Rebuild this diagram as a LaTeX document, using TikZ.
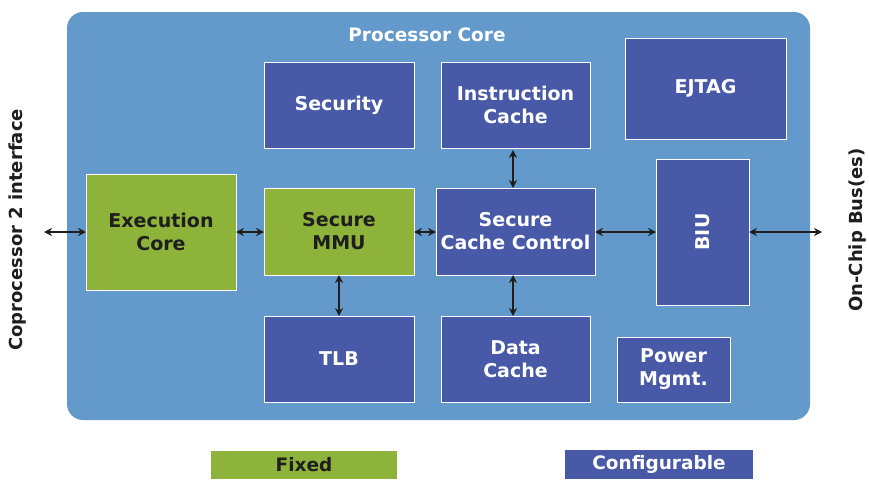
\documentclass[tikz,border=0pt]{standalone}
\usepackage{fontspec}
\setmainfont{DejaVu Sans}
\usetikzlibrary{arrows.meta}
\definecolor{corebg}{HTML}{6399CB}
\definecolor{cfgblue}{HTML}{4859A8}
\definecolor{fixgreen}{HTML}{8DB33A}
\definecolor{txtdark}{HTML}{1E1E1E}
\tikzset{
  blk/.style={draw=white, line width=0.8pt, inner sep=0pt, outer sep=0pt, align=center,
    font=\bfseries\fontsize{19}{23}\selectfont},
  cfg/.style={blk, fill=cfgblue, text=white},
  fix/.style={blk, fill=fixgreen, text=txtdark},
  link/.style={line width=1.8pt, draw=txtdark, {Stealth[length=8pt,width=8pt]}-{Stealth[length=8pt,width=8pt]}},
  side/.style={font=\bfseries\fontsize{18}{21}\selectfont, text=txtdark, rotate=90},
  legend/.style={inner sep=0pt, outer sep=0pt, font=\bfseries\fontsize{18.5}{21}\selectfont}
}
\begin{document}
\begin{tikzpicture}[x=1pt,y=-1pt]
\useasboundingbox (0,0) rectangle (869,479);
% processor core background
\node[fill=corebg, rounded corners=16pt, minimum width=743pt, minimum height=408pt, inner sep=0pt] (core) at (438.5,216) {};
\node[text=white, font=\bfseries\fontsize{18.5}{22}\selectfont] (coret) at (427,35) {Processor Core};
% blocks
\node[cfg, minimum width=150pt, minimum height=86pt] (sec) at (339,105) {Security};
\node[cfg, minimum width=149pt, minimum height=86pt] (ic) at (515.5,105) {Instruction\\Cache};
\node[cfg, minimum width=161pt, minimum height=101pt] (ejtag) at (705.5,88.5) {EJTAG};
\node[fix, minimum width=150pt, minimum height=116pt] (exe) at (161,232) {Execution\\Core};
\node[fix, minimum width=150pt, minimum height=87pt] (mmu) at (339,231.5) {Secure\\MMU};
\node[cfg, minimum width=159pt, minimum height=87pt] (scc) at (515.5,231.5) {Secure\\Cache Control};
\node[cfg, minimum width=93pt, minimum height=146pt] (biu) at (702.5,232) {\rotatebox{90}{BIU}};
\node[cfg, minimum width=150pt, minimum height=86pt] (tlb) at (339,359) {TLB};
\node[cfg, minimum width=149pt, minimum height=86pt] (dc) at (515.5,359) {Data\\Cache};
\node[cfg, minimum width=113pt, minimum height=65pt] (pwr) at (673.5,369.5) {Power\\Mgmt.};
% side labels
\node[side] (cop) at (18,230) {Coprocessor 2 interface};
\node[side] (ocb) at (858,230) {On-Chip Bus(es)};
\coordinate (lend) at (44,232);
\coordinate (rend) at (822,232);
% connectors
\draw[link] (lend) -- (exe.west);
\draw[link] (exe.east) -- (mmu.west |- exe.east);
\draw[link] (mmu.east |- exe.east) -- (scc.west |- exe.east);
\draw[link] (scc.east |- exe.east) -- (biu.west |- exe.east);
\draw[link] (biu.east |- exe.east) -- (rend);
\draw[link] ([yshift=-2pt]ic.south -| 513,0) -- (scc.north -| 513,0);
\draw[link] (mmu.south) -- (tlb.north);
\draw[link] (scc.south -| 513,0) -- (dc.north -| 513,0);
% legend
\node[legend, fill=fixgreen, text=txtdark, minimum width=186pt, minimum height=28pt] (lfix) at (304,465) {Fixed};
\node[legend, fill=cfgblue, text=white, minimum width=188pt, minimum height=29pt] (lcfg) at (659,464.5) {Configurable};
\end{tikzpicture}
\end{document}
